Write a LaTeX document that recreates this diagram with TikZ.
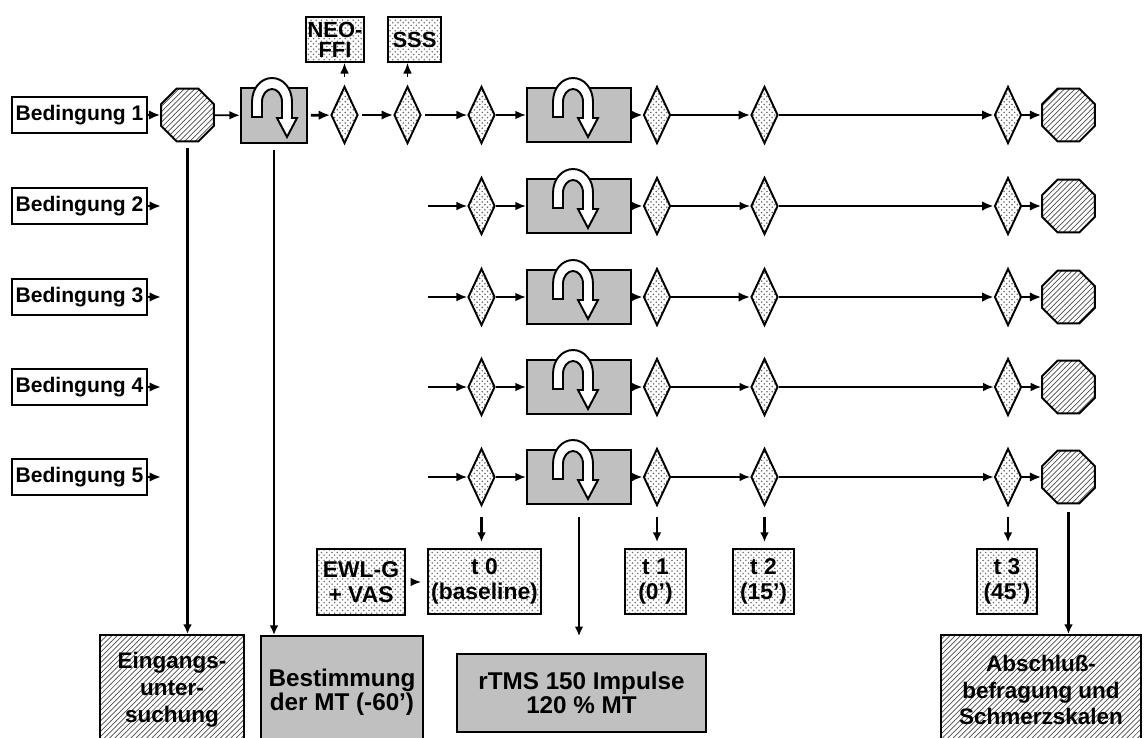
\documentclass[tikz,border=0pt]{standalone}
\usepackage{fontspec}
\setmainfont{Liberation Sans}
\usetikzlibrary{shapes.geometric,patterns,arrows.meta}
\definecolor{boxgray}{HTML}{C0C0C0}
\def\pxu{0.02cm}
\tikzset{
  thinln/.style={line width=1pt,-{Latex[length=6pt,width=5pt]}},
  thickln/.style={line width=1.6pt,-{Latex[length=6.5pt,width=5.5pt]}},
  vln/.style={line width=1.2pt,-{Latex[length=5.5pt,width=5pt]}},
  bedbox/.style={draw,line width=1.1pt,fill=white,minimum width=135*\pxu,minimum height=36*\pxu,inner sep=0pt,font=\fontsize{12}{12}\selectfont\bfseries},
  diam/.style={diamond,draw,line width=1.1pt,pattern=crosshatch dots,pattern color=black!60,minimum width=27*\pxu,minimum height=57*\pxu,inner sep=0pt},
  octo/.style={regular polygon,regular polygon sides=8,draw,line width=1.1pt,pattern=north east lines,pattern color=black!70,minimum size=57*\pxu,inner sep=0pt},
  tmsbox/.style={draw,line width=1.3pt,fill=boxgray,minimum width=104*\pxu,minimum height=54*\pxu,inner sep=0pt},
  smallgray/.style={draw,line width=1.3pt,fill=boxgray,minimum width=66*\pxu,minimum height=55*\pxu,inner sep=0pt},
  dotbox/.style={draw,line width=1.1pt,pattern=crosshatch dots,pattern color=black!55,inner sep=0pt,align=center,font=\fontsize{13}{14}\selectfont\bfseries},
  hatchbox/.style={draw,line width=1.1pt,pattern=north east lines,pattern color=black!70,inner sep=0pt,align=center,font=\fontsize{12.8}{15.3}\selectfont\bfseries},
  graybig/.style={draw,line width=1.1pt,fill=boxgray,inner sep=0pt,align=center,font=\fontsize{13.8}{13.5}\selectfont\bfseries},
  uturn/.pic={\draw[line width=1.1pt,fill=white,line join=miter]
    (-22,2) -- (-22,-13) .. controls (-22,-27) and (-13,-37) .. (-2,-37)
    .. controls (9,-37) and (18,-27) .. (18,-13) -- (18,3) -- (23,3) -- (13,22) -- (3,3) -- (8,3) -- (8,-13)
    .. controls (8,-21) and (3,-26) .. (-2,-26) .. controls (-7,-26) and (-12,-21) .. (-12,-13) -- (-12,2) -- cycle;}
}
\begin{document}
\begin{tikzpicture}[x=\pxu,y=-\pxu]
\useasboundingbox (0,0) rectangle (1146,737);
\clip (0,0) rectangle (1146,737);
% rows
\foreach \i/\yy in {1/115,2/206,3/297,4/387,5/477}{
  \node[bedbox] (bed\i) at (79.5,\yy) {Bedingung \i};
  \node[diam] (dC\i) at (481.5,\yy) {};
  \node[tmsbox] (tb\i) at (579,\yy) {};
  \pic at (575,\yy) {uturn};
  \node[diam] (dD\i) at (657,\yy) {};
  \node[diam] (dE\i) at (764.5,\yy) {};
  \node[diam] (dF\i) at (1008,\yy) {};
  \node[octo] (oc\i) at (1068.5,\yy) {};
}
% row 1 extras
\node[octo] (oc0) at (187.5,115) {};
\node[smallgray] (gb) at (274,115.5) {};
\pic at (274,115) {uturn};
\node[diam] (dA) at (344.5,115) {};
\node[diam] (dB) at (407.5,115) {};
\node[dotbox,minimum width=58*\pxu,minimum height=45*\pxu,font=\fontsize{12.5}{11.3}\selectfont\bfseries] (neo) at (335,39.5) {NEO-\\FFI};
\node[dotbox,minimum width=53*\pxu,minimum height=45*\pxu,font=\fontsize{12.5}{11.3}\selectfont\bfseries] (sss) at (414.5,39.5) {SSS};
% row 1 connectors
\draw[thickln] (bed1) -- (oc0);
\draw[thinln] (oc0) -- (gb);
\draw[thickln,shorten <=1.5pt] (gb) -- (dA);
\draw[thickln,shorten <=2pt] (dA) -- (dB);
\draw[thinln,shorten <=2pt] (dB) -- (dC1);
% rows 2-5 entry
\foreach \i/\yy in {2/206,3/297,4/387,5/477}{
  \coordinate (bx\i) at (161,\yy);
  \coordinate (st\i) at (428,\yy);
  \draw[thickln] (bed\i) -- (bx\i);
  \draw[thinln] (st\i) -- (dC\i);
}
% common connectors
\foreach \i/\sde/\sef/\sfo in {1/thickln/thickln/thickln,2/thinln/thickln/thickln,3/thickln/thickln/thickln,4/thinln/thinln/thinln,5/thinln/thinln/thickln}{
  \draw[thinln] (dC\i) -- (tb\i);
  \draw[thickln] (tb\i) -- (dD\i);
  \draw[\sde] (dD\i) -- (dE\i);
  \draw[\sef] (dE\i) -- (dF\i);
  \draw[\sfo] (dF\i) -- (oc\i);
}
% bottom boxes
\node[hatchbox,minimum width=144*\pxu,minimum height=110*\pxu] (eing) at (172,690) {Eingangs-\\unter-\\suchung};
\node[graybig,minimum width=162*\pxu,minimum height=112*\pxu] (best) at (342,692) {Bestimmung\\der MT (-60’)};
\node[graybig,minimum width=249*\pxu,minimum height=78*\pxu] (rtms) at (581.5,693) {rTMS 150 Impulse\\120 \% MT};
\node[hatchbox,minimum width=200*\pxu,minimum height=110*\pxu] (abs) at (1041,690) {Abschluß-\\befragung und\\Schmerzskalen};
% measurement boxes
\node[dotbox,minimum width=113*\pxu,minimum height=65*\pxu] (t0) at (484.5,581.5) {t 0\\(baseline)};
\node[dotbox,minimum width=88*\pxu,minimum height=66*\pxu] (ewl) at (361,582) {EWL-G\\+ VAS};
\node[dotbox,minimum width=61*\pxu,minimum height=65*\pxu] (t1) at (655.5,581.5) {t 1\\(0’)};
\node[dotbox,minimum width=61*\pxu,minimum height=65*\pxu] (t2) at (763.5,581.5) {t 2\\(15’)};
\node[dotbox,minimum width=60*\pxu,minimum height=65*\pxu] (t3) at (1007,581.5) {t 3\\(45’)};
% vertical connectors
\draw[vln,shorten <=3.4pt] (oc0.south) -- (oc0.south |- eing.north);
\draw[vln,shorten <=3.4pt] (gb.south) -- (gb.south |- best.north);
\draw[vln,shorten <=7pt,shorten >=9.6pt] (tb5.south) -- (tb5.south |- rtms.north);
\draw[vln,shorten <=6pt,shorten >=3.4pt] (dC5.south) -- (dC5.south |- t0.north);
\draw[vln,shorten <=6pt,shorten >=3.4pt] (dD5.south) -- (dD5.south |- t1.north);
\draw[vln,shorten <=6pt,shorten >=3.4pt] (dE5.south) -- (dE5.south |- t2.north);
\draw[vln,shorten <=6pt,shorten >=3.4pt] (dF5.south) -- (dF5.south |- t3.north);
\draw[vln,shorten <=4.5pt] (oc5.south) -- (oc5.south |- abs.north);
\draw[thinln,shorten <=3pt,shorten >=3.4pt] (ewl.east) -- (ewl.east -| t0.west);
\draw[thinln,shorten <=5pt] (dA.north) -- (dA.north |- neo.south);
\draw[thinln,shorten <=5pt] (dB.north) -- (dB.north |- sss.south);
\end{tikzpicture}
\end{document}
